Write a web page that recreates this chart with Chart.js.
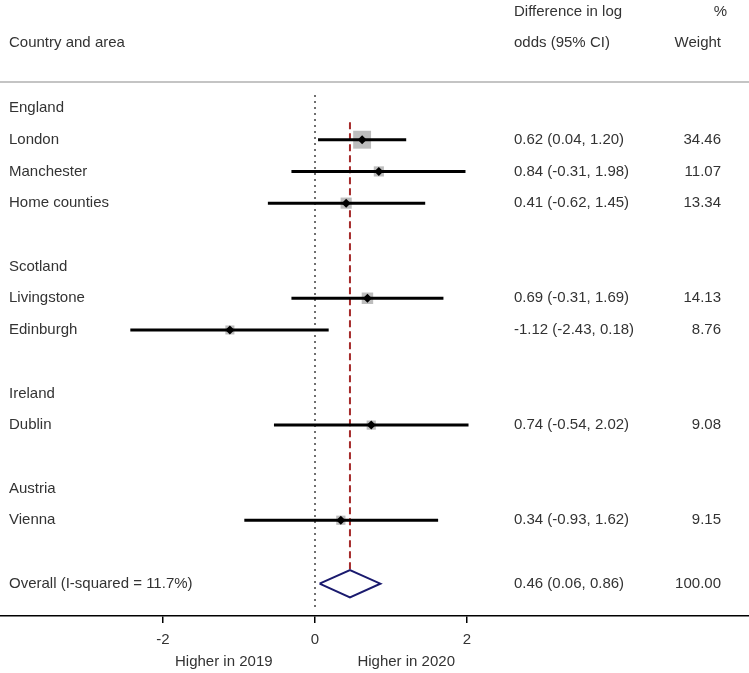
<!DOCTYPE html>
<html>
<head>
<meta charset="utf-8">
<script src="https://cdn.jsdelivr.net/npm/chart.js@4"></script>
<style>
  body { margin: 0; background: #fff; }
  #wrap { width: 749px; height: 673px; position: relative; }
</style>
</head>
<body>
<div id="wrap"><canvas id="forest"></canvas></div>
<script>
'use strict';

// groups and their row on the plot
var groupNames = ['England', 'Scotland', 'Ireland', 'Austria'];
var groupRows = [0, 5, 9, 12];

// studies
var studyNames = ['London', 'Manchester', 'Home counties', 'Livingstone', 'Edinburgh', 'Dublin', 'Vienna'];
var studyRows = [1, 2, 3, 6, 7, 10, 13];
var estimates = [0.62, 0.84, 0.41, 0.69, -1.12, 0.74, 0.34];
var lowerCI = [0.04, -0.31, -0.62, -0.31, -2.43, -0.54, -0.93];
var upperCI = [1.20, 1.98, 1.45, 1.69, 0.18, 2.02, 1.62];
var weights = [34.46, 11.07, 13.34, 14.13, 8.76, 9.08, 9.15];

// pooled estimate
var overallLabel = 'Overall (I-squared = 11.7%)';
var overallRow = 15;
var overallEst = 0.46;
var overallLow = 0.06;
var overallHigh = 0.86;
var overallWeight = 100.00;

var xTicks = [-2, 0, 2];

var fontFamily = '"Liberation Sans", Arial, sans-serif';
var textFont = '15px ' + fontFamily;
var textColor = '#333';

function ciText(e, l, u) {
  return e.toFixed(2) + ' (' + l.toFixed(2) + ', ' + u.toFixed(2) + ')';
}

var datasets = [];

// reference line at zero (dotted)
datasets.push({
  type: 'line',
  data: [{x: 0, y: -0.4}, {x: 0, y: 15.85}],
  borderColor: '#000',
  borderWidth: 1.5,
  borderDash: [1.5, 4.5],
  pointRadius: 0,
  order: 6
});

// overall effect line (red dashed)
datasets.push({
  type: 'line',
  data: [{x: overallEst, y: 0.45}, {x: overallEst, y: overallRow - 0.43}],
  borderColor: '#a52a2a',
  borderWidth: 2,
  borderDash: [7, 4],
  pointRadius: 0,
  order: 6
});

// boxes sized by weight
datasets.push({
  type: 'scatter',
  data: studyRows.map(function (r, i) { return {x: estimates[i], y: r}; }),
  pointStyle: 'rect',
  backgroundColor: '#bdbdbd',
  borderWidth: 0,
  pointRadius: function (c) { return Math.sqrt(weights[c.dataIndex]) * 3.05 / Math.SQRT2; },
  order: 5
});

// confidence intervals
for (var i = 0; i < studyRows.length; i++) {
  datasets.push({
    type: 'line',
    data: [{x: lowerCI[i], y: studyRows[i]}, {x: upperCI[i], y: studyRows[i]}],
    borderColor: '#000',
    borderWidth: 3,
    pointRadius: 0,
    order: 4
  });
}

// point estimates
datasets.push({
  type: 'scatter',
  data: studyRows.map(function (r, i) { return {x: estimates[i], y: r}; }),
  pointStyle: 'rectRot',
  backgroundColor: '#000',
  borderColor: '#000',
  borderWidth: 0,
  pointRadius: 4.5,
  order: 3
});

// overall diamond
datasets.push({
  type: 'line',
  data: [
    {x: overallLow, y: overallRow},
    {x: overallEst, y: overallRow - 0.43},
    {x: overallHigh, y: overallRow},
    {x: overallEst, y: overallRow + 0.43},
    {x: overallLow, y: overallRow}
  ],
  borderColor: '#1a1a6e',
  borderWidth: 2,
  pointRadius: 0,
  fill: false,
  tension: 0,
  order: 2
});

var textPlugin = {
  id: 'forestText',
  afterDraw: function (chart) {
    var ctx = chart.ctx;
    var ys = chart.scales.y;
    var xs = chart.scales.x;
    var area = chart.chartArea;
    ctx.save();

    // header separator
    ctx.strokeStyle = '#b0b0b0';
    ctx.lineWidth = 1.5;
    ctx.beginPath();
    ctx.moveTo(0, area.top);
    ctx.lineTo(chart.width, area.top);
    ctx.stroke();

    ctx.font = textFont;
    ctx.fillStyle = textColor;
    ctx.textBaseline = 'middle';

    ctx.textAlign = 'left';
    ctx.fillText('Country and area', 9, 43);
    ctx.fillText('Difference in log', 514, 12);
    ctx.fillText('odds (95% CI)', 514, 43);
    ctx.textAlign = 'right';
    ctx.fillText('%', 727, 12);
    ctx.fillText('Weight', 721, 43);

    ctx.textAlign = 'left';
    groupNames.forEach(function (g, k) {
      ctx.fillText(g, 9, ys.getPixelForValue(groupRows[k]));
    });
    studyNames.forEach(function (s, k) {
      var y = ys.getPixelForValue(studyRows[k]);
      ctx.textAlign = 'left';
      ctx.fillText(s, 9, y);
      ctx.fillText(ciText(estimates[k], lowerCI[k], upperCI[k]), 514, y);
      ctx.textAlign = 'right';
      ctx.fillText(weights[k].toFixed(2), 721, y);
    });
    var yo = ys.getPixelForValue(overallRow);
    ctx.textAlign = 'left';
    ctx.fillText(overallLabel, 9, yo);
    ctx.fillText(ciText(overallEst, overallLow, overallHigh), 514, yo);
    ctx.textAlign = 'right';
    ctx.fillText(overallWeight.toFixed(2), 721, yo);

    // direction labels under the axis
    ctx.textAlign = 'center';
    ctx.fillText('Higher in 2019', xs.getPixelForValue(-1.2), 662);
    ctx.fillText('Higher in 2020', xs.getPixelForValue(1.2), 662);
    ctx.restore();
  }
};

var chart = new Chart(document.getElementById('forest').getContext('2d'), {
  type: 'scatter',
  data: { datasets: datasets },
  options: {
    responsive: true,
    maintainAspectRatio: false,
    animation: false,
    layout: { autoPadding: false, padding: { top: 82, left: 0, right: 0, bottom: 16 } },
    plugins: {
      legend: { display: false },
      tooltip: { enabled: false }
    },
    scales: {
      x: {
        type: 'linear',
        min: -315 / 76,
        max: 434 / 76,
        afterBuildTicks: function (axis) {
          axis.ticks = xTicks.map(function (v) { return {value: v}; });
        },
        ticks: {
          color: textColor,
          font: { family: fontFamily, size: 15 },
          padding: 8,
          maxRotation: 0
        },
        grid: {
          display: true,
          drawOnChartArea: false,
          drawTicks: true,
          tickLength: 7,
          color: '#000',
          lineWidth: 1.5
        },
        border: { display: true, color: '#000', width: 1.5 }
      },
      y: {
        type: 'linear',
        display: false,
        reverse: true,
        min: -0.82,
        max: 16.02
      }
    }
  },
  plugins: [textPlugin]
});
</script>
</body>
</html>
